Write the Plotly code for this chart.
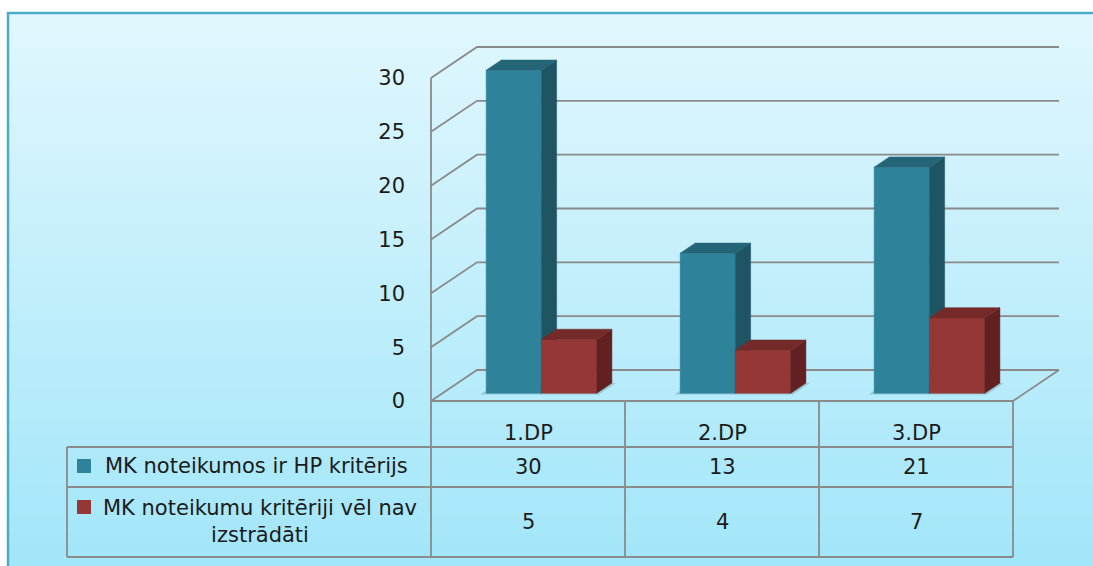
import plotly.graph_objects as go

# ---------------- data ----------------
categories = ["1.DP", "2.DP", "3.DP"]
series_names = ["MK noteikumos ir HP kritērijs", "MK noteikumu kritēriji vēl nav<br>izstrādāti"]
blue_values = [30, 13, 21]
red_values = [5, 4, 7]
y_ticks = [0, 5, 10, 15, 20, 25, 30]

# ---------------- styling / geometry ----------------
W, H = 1093, 566
X0PX, XUNIT = 431, 194.0      # pixel of x=0, pixels per category
Y0PX, YUNIT = 401, 10.767     # pixel of value 0, pixels per value unit
FONT = "DejaVu Sans"
FSIZE = 21
TXT = "#1b1b1b"
GRID = "#8a8a8a"

BLUE = dict(front="#2e839b", side="#1f5463", top="#246577")
RED = dict(front="#953734", side="#622120", top="#742a28")

DEPTH_X = 46 / XUNIT
DEPTH_Y = 31 / YUNIT
D_FRONT, D_BACK = 0.25, 0.58
BAR_W = 0.285
BAR_START = 0.225


def dx(px):
    return (px - X0PX) / XUNIT


def dy(py):
    return (Y0PX - py) / YUNIT


def P(x, v, d):
    return x + d * DEPTH_X, v + d * DEPTH_Y


fig = go.Figure()


def add_poly(pts, color, lw=0.5):
    xs = [p[0] for p in pts] + [pts[0][0]]
    ys = [p[1] for p in pts] + [pts[0][1]]
    fig.add_trace(go.Scatter(x=xs, y=ys, mode="lines", fill="toself",
                             fillcolor=color, line=dict(color=color, width=lw),
                             hoverinfo="skip", showlegend=False))


def add_line(pts, color=GRID, width=1.8):
    fig.add_trace(go.Scatter(x=[p[0] for p in pts], y=[p[1] for p in pts], mode="lines",
                             line=dict(color=color, width=width),
                             hoverinfo="skip", showlegend=False))


# ---- grid: back wall and left wall ----
n = len(categories)
for v in y_ticks:
    add_line([P(0, v, 0), P(0, v, 1), P(n, v, 1)])
# floor
add_line([P(n, 0, 0), P(n, 0, 1)])

# ---- soft shadows on the floor ----
for i in range(n):
    x0 = i + BAR_START
    x1 = x0 + 2 * BAR_W
    add_poly([P(x0 - 0.02, 0, D_FRONT - 0.04), P(x1 + 0.02, 0, D_FRONT - 0.04),
              P(x1 + 0.02, 0, D_BACK), P(x0 - 0.02, 0, D_BACK)], "rgba(40,70,80,0.22)", lw=0)


# ---- 3D bars ----
def add_box(x0, x1, v, col):
    add_poly([P(x0, 0, D_FRONT), P(x1, 0, D_FRONT), P(x1, v, D_FRONT), P(x0, v, D_FRONT)], col["front"])
    add_poly([P(x1, 0, D_FRONT), P(x1, 0, D_BACK), P(x1, v, D_BACK), P(x1, v, D_FRONT)], col["side"])
    add_poly([P(x0, v, D_FRONT), P(x1, v, D_FRONT), P(x1, v, D_BACK), P(x0, v, D_BACK)], col["top"])


for i in range(n):
    xb = i + BAR_START
    add_box(xb, xb + BAR_W, blue_values[i], BLUE)
    add_box(xb + BAR_W, xb + 2 * BAR_W, red_values[i], RED)

# ---------------- shapes: background, frame, table ----------------
shapes = []
top_c = (225, 247, 254)
bot_c = (162, 230, 249)
FRAME_L, FRAME_T = 8, 13
nb = 80
for k in range(nb):
    t = k / (nb - 1)
    c = tuple(round(top_c[j] + (bot_c[j] - top_c[j]) * t) for j in range(3))
    y_top = FRAME_T + (H - FRAME_T) * k / nb
    y_bot = FRAME_T + (H - FRAME_T) * (k + 1) / nb + 1
    shapes.append(dict(type="rect", xref="paper", yref="paper", layer="below",
                       x0=FRAME_L / W, x1=1.01, y0=1 - y_bot / H, y1=1 - y_top / H,
                       fillcolor="rgb(%d,%d,%d)" % c, line=dict(width=0)))
shapes.append(dict(type="rect", xref="paper", yref="paper", layer="below",
                   x0=FRAME_L / W, x1=1.02, y0=-0.02, y1=1 - FRAME_T / H,
                   fillcolor="rgba(0,0,0,0)", line=dict(color="#4bacc6", width=2.5)))

ROW1, ROW2, ROW3 = 447, 487, 557
LEFT_PX = 67
tline = dict(color=GRID, width=1.8)
# horizontal table lines
shapes.append(dict(type="line", xref="x", yref="y", x0=0, x1=n, y0=0, y1=0, line=tline))
for r in (ROW1, ROW2, ROW3):
    shapes.append(dict(type="line", xref="x", yref="y", x0=dx(LEFT_PX), x1=n, y0=dy(r), y1=dy(r), line=tline))
# vertical lines
shapes.append(dict(type="line", xref="x", yref="y", x0=0, x1=0, y0=y_ticks[-1], y1=dy(ROW3), line=tline))
for i in range(1, n + 1):
    shapes.append(dict(type="line", xref="x", yref="y", x0=i, x1=i, y0=0, y1=dy(ROW3), line=tline))
shapes.append(dict(type="line", xref="x", yref="y", x0=dx(LEFT_PX), x1=dx(LEFT_PX), y0=dy(ROW1), y1=dy(ROW3), line=tline))
# legend keys
for (yc, col) in ((466, BLUE["front"]), (507, RED["front"])):
    shapes.append(dict(type="rect", xref="x", yref="y", x0=dx(77), x1=dx(91),
                       y0=dy(yc + 7), y1=dy(yc - 7), fillcolor=col, line=dict(width=0)))

# ---------------- annotations ----------------
ann = []
fnt = dict(family=FONT, size=FSIZE, color=TXT)
for i, c in enumerate(categories):
    ann.append(dict(x=i + 0.5, y=dy(433), xref="x", yref="y", text=c, showarrow=False, font=fnt))
    ann.append(dict(x=i + 0.5, y=dy(467), xref="x", yref="y", text=str(blue_values[i]), showarrow=False, font=fnt))
    ann.append(dict(x=i + 0.5, y=dy(522), xref="x", yref="y", text=str(red_values[i]), showarrow=False, font=fnt))
ann.append(dict(x=dx(256), y=dy(466), xref="x", yref="y", text=series_names[0], showarrow=False, font=fnt))
ann.append(dict(x=dx(260), y=dy(521), xref="x", yref="y", text=series_names[1], showarrow=False,
                font=fnt, align="center"))

fig.update_layout(
    width=W, height=H, autosize=False,
    margin=dict(l=0, r=0, t=0, b=0),
    paper_bgcolor="white", plot_bgcolor="rgba(0,0,0,0)",
    showlegend=False,
    shapes=shapes, annotations=ann,
    xaxis=dict(range=[dx(0), dx(W)], visible=False, fixedrange=True),
    yaxis=dict(range=[dy(H), dy(0)], anchor="free", position=X0PX / W,
               tickvals=y_ticks, ticktext=[str(v) for v in y_ticks],
               tickfont=dict(family=FONT, size=FSIZE, color=TXT),
               showgrid=False, zeroline=False, showline=False, ticks="",
               ticklabelstandoff=26, fixedrange=True),
)

fig.write_html("out.html", config={"displayModeBar": False},
               post_script="document.body.style.margin='0';document.body.style.overflow='hidden';")
